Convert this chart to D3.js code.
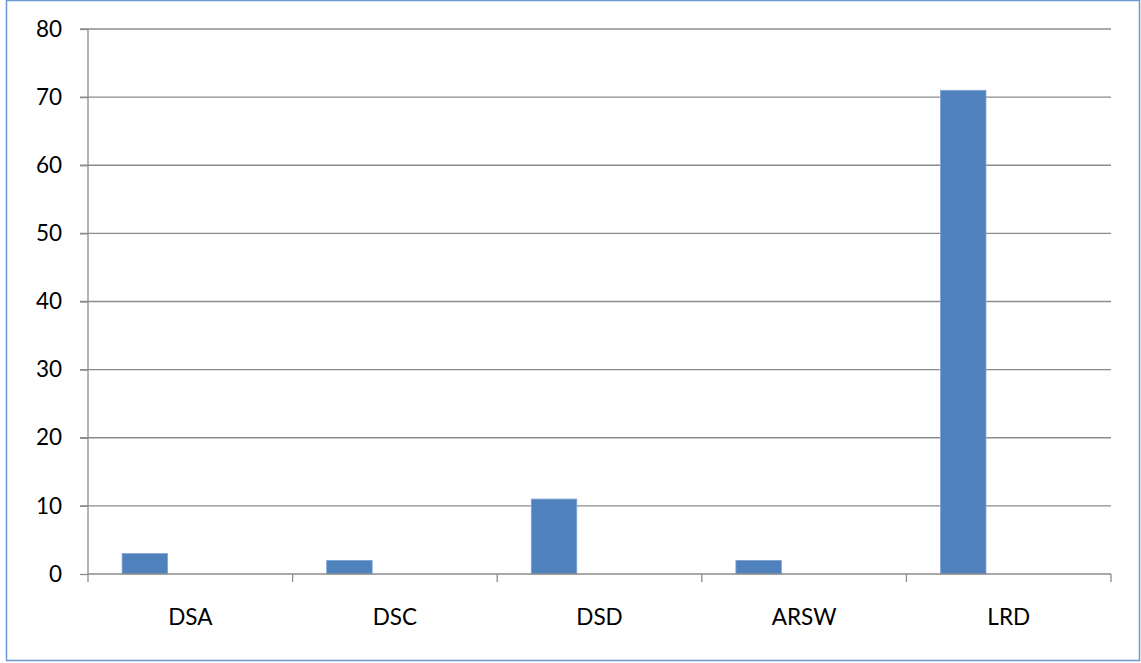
<!DOCTYPE html>
<html>
<head>
<meta charset="utf-8">
<script src="https://cdn.jsdelivr.net/npm/d3@7"></script>
<style>
  body { margin: 0; background: #fff; }
  .axis text { font-family: "Lato", "Open Sans", sans-serif; font-size: 22.5px; fill: #000; }
</style>
</head>
<body>
<div id="chart"></div>
<script>
// chart data
const categories = ["DSA", "DSC", "DSD", "ARSW", "LRD"];
const values = [3, 2, 11, 2, 71];
const yTicks = [0, 10, 20, 30, 40, 50, 60, 70, 80];
// excel cluster has 3 series slots, only the first has values
const seriesSlots = [0, 1, 2];

const W = 1141, H = 663;
const margin = { top: 29, right: 30, bottom: 89, left: 88 };
const width = 1111 - margin.left;
const height = 574 - margin.top;

const svg = d3.select("#chart").append("svg")
    .attr("width", W)
    .attr("height", H);

// outer chart frame
svg.append("rect")
    .attr("x", 6.5).attr("y", 0.5)
    .attr("width", 1133).attr("height", 660)
    .attr("fill", "#fff")
    .attr("stroke", "#6a98d0")
    .attr("stroke-width", 1.5);

const g = svg.append("g")
    .attr("transform", `translate(${margin.left}, ${margin.top})`);

const x = d3.scaleBand()
    .domain(categories)
    .range([0, width])
    .padding(0);

const x1 = d3.scaleBand()
    .domain(seriesSlots)
    .range([0, x.bandwidth()])
    .paddingInner(0)
    .paddingOuter(0.75);

const y = d3.scaleLinear()
    .domain([0, 80])
    .range([height, 0]);

// gridlines
g.selectAll(".grid")
    .data(yTicks.filter(d => d > 0))
    .enter().append("line")
    .attr("class", "grid")
    .attr("x1", -8).attr("x2", width)
    .attr("y1", d => y(d)).attr("y2", d => y(d))
    .attr("stroke", "#8c8c8c")
    .attr("stroke-width", 1.3);

// y axis
const yAxis = d3.axisLeft(y).tickValues(yTicks).tickSize(8).tickPadding(18);
const ya = g.append("g").attr("class", "axis").call(yAxis);
ya.select(".domain").remove();
ya.selectAll(".tick line").attr("stroke", "#8c8c8c").attr("stroke-width", 1.3);
ya.append("line")
    .attr("x1", 0).attr("x2", 0)
    .attr("y1", 0).attr("y2", height + 8)
    .attr("stroke", "#8c8c8c").attr("stroke-width", 1.3);

// bars
g.selectAll(".bar")
    .data(categories)
    .enter().append("rect")
    .attr("class", "bar")
    .attr("x", d => x(d) + x1(0))
    .attr("width", x1.bandwidth())
    .attr("y", (d, i) => y(values[i]))
    .attr("height", (d, i) => height - y(values[i]))
    .attr("fill", "#4f81bd")
    .attr("stroke", "#7fa4d3")
    .attr("stroke-width", 0.8);

// x axis
const xa = g.append("g")
    .attr("class", "axis")
    .attr("transform", `translate(0, ${height})`)
    .call(d3.axisBottom(x).tickSize(0).tickPadding(51));
xa.select(".domain").remove();
xa.selectAll(".tick text").attr("dy", "0");
xa.append("line")
    .attr("x1", 0).attr("x2", width)
    .attr("y1", 0).attr("y2", 0)
    .attr("stroke", "#8c8c8c").attr("stroke-width", 1.3);
xa.selectAll(".sep")
    .data(categories.slice(1).concat(["end"]))
    .enter().append("line")
    .attr("class", "sep")
    .attr("x1", d => d === "end" ? width : x(d))
    .attr("x2", d => d === "end" ? width : x(d))
    .attr("y1", 0).attr("y2", 8)
    .attr("stroke", "#8c8c8c").attr("stroke-width", 1.3);
</script>
</body>
</html>
